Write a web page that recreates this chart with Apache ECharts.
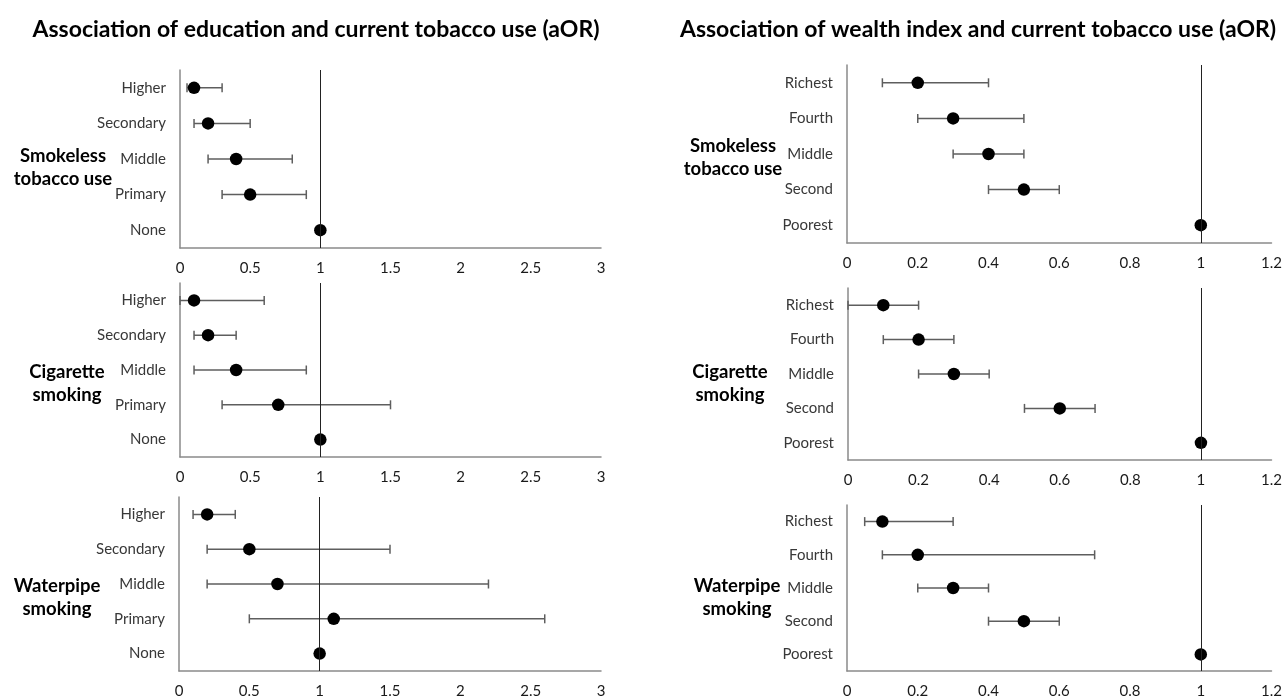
<!DOCTYPE html>
<html>
<head>
<meta charset="utf-8">
<script src="https://cdn.jsdelivr.net/npm/echarts@6/dist/echarts.min.js"></script>
<style>html,body{margin:0;padding:0;background:#fff}#c{width:1285px;height:699px}</style>
</head>
<body>
<div id="c"></div>
<script>
// ---- Data ----
const eduCats = ['Higher', 'Secondary', 'Middle', 'Primary', 'None'];
const wealthCats = ['Richest', 'Fourth', 'Middle', 'Second', 'Poorest'];

const eduSmokelessOR = [0.1, 0.2, 0.4, 0.5, 1];
const eduSmokelessLo = [0.05, 0.1, 0.2, 0.3, null];
const eduSmokelessHi = [0.3, 0.5, 0.8, 0.9, null];

const eduCigOR = [0.1, 0.2, 0.4, 0.7, 1];
const eduCigLo = [0, 0.1, 0.1, 0.3, null];
const eduCigHi = [0.6, 0.4, 0.9, 1.5, null];

const eduWaterOR = [0.2, 0.5, 0.7, 1.1, 1];
const eduWaterLo = [0.1, 0.2, 0.2, 0.5, null];
const eduWaterHi = [0.4, 1.5, 2.2, 2.6, null];

const wealthSmokelessOR = [0.2, 0.3, 0.4, 0.5, 1];
const wealthSmokelessLo = [0.1, 0.2, 0.3, 0.4, null];
const wealthSmokelessHi = [0.4, 0.5, 0.5, 0.6, null];

const wealthCigOR = [0.1, 0.2, 0.3, 0.6, 1];
const wealthCigLo = [0, 0.1, 0.2, 0.5, null];
const wealthCigHi = [0.2, 0.3, 0.4, 0.7, null];

const wealthWaterOR = [0.1, 0.2, 0.3, 0.5, 1];
const wealthWaterLo = [0.05, 0.1, 0.2, 0.4, null];
const wealthWaterHi = [0.3, 0.7, 0.4, 0.6, null];

const eduTicks = { min: 0, max: 3, interval: 0.5 };
const wealthTicks = { min: 0, max: 1.2, interval: 0.2 };

const leftTitle = 'Association of education and current tobacco use (aOR)';
const rightTitle = 'Association of wealth index and current tobacco use (aOR)';
const groupNames = [['Smokeless', 'tobacco use'], ['Cigarette', 'smoking'], ['Waterpipe', 'smoking']];

// ---- Layout ----
const FONT = 'Lato, "Open Sans", sans-serif';
const panels = [
  { grid: { left: 180, width: 421, top: 70, height: 178 }, cats: eduCats, or: eduSmokelessOR, lo: eduSmokelessLo, hi: eduSmokelessHi, ticks: eduTicks },
  { grid: { left: 180, width: 421, top: 283, height: 174 }, cats: eduCats, or: eduCigOR, lo: eduCigLo, hi: eduCigHi, ticks: eduTicks },
  { grid: { left: 179, width: 422, top: 497, height: 175 }, cats: eduCats, or: eduWaterOR, lo: eduWaterLo, hi: eduWaterHi, ticks: eduTicks },
  { grid: { left: 847, width: 425, top: 65, height: 178 }, cats: wealthCats, or: wealthSmokelessOR, lo: wealthSmokelessLo, hi: wealthSmokelessHi, ticks: wealthTicks },
  { grid: { left: 848, width: 424, top: 288, height: 172 }, cats: wealthCats, or: wealthCigOR, lo: wealthCigLo, hi: wealthCigHi, ticks: wealthTicks },
  { grid: { left: 847, width: 425, top: 505, height: 166 }, cats: wealthCats, or: wealthWaterOR, lo: wealthWaterLo, hi: wealthWaterHi, ticks: wealthTicks }
];

const grids = [], xAxes = [], yAxes = [], series = [];
panels.forEach((p, i) => {
  grids.push(Object.assign({}, p.grid));
  xAxes.push({
    type: 'value', gridIndex: i, min: p.ticks.min, max: p.ticks.max, interval: p.ticks.interval,
    axisLine: { show: true, onZero: false, lineStyle: { color: '#8a8a8a', width: 1.5 } },
    axisTick: { show: false }, splitLine: { show: false },
    axisLabel: { color: '#1a1a1a', fontSize: 15, fontFamily: FONT, margin: 13 }
  });
  yAxes.push({
    type: 'category', gridIndex: i, data: p.cats, inverse: true,
    axisLine: { show: true, onZero: false, lineStyle: { color: '#8a8a8a', width: 1.5 } },
    axisTick: { show: false }, splitLine: { show: false },
    axisLabel: { color: '#383838', fontSize: 15, fontFamily: FONT, margin: 14 }
  });
  const errData = [];
  p.cats.forEach((c, k) => { if (p.lo[k] != null) errData.push([k, p.lo[k], p.hi[k]]); });
  series.push({
    type: 'custom', coordinateSystem: 'cartesian2d', xAxisIndex: i, yAxisIndex: i, data: errData, z: 2,
    dimensions: ['cat', 'lo', 'hi'],
    encode: { y: 0, x: [1, 2] },
    renderItem: function (params, api) {
      const a = api.coord([api.value(1), api.value(0)]);
      const b = api.coord([api.value(2), api.value(0)]);
      const h = 4.5;
      const st = { stroke: '#5e5e5e', lineWidth: 1.5 };
      return {
        type: 'group', children: [
          { type: 'line', shape: { x1: a[0], y1: a[1], x2: b[0], y2: b[1] }, style: st },
          { type: 'line', shape: { x1: a[0], y1: a[1] - h, x2: a[0], y2: a[1] + h }, style: st },
          { type: 'line', shape: { x1: b[0], y1: b[1] - h, x2: b[0], y2: b[1] + h }, style: st }
        ]
      };
    }
  });
  series.push({
    type: 'scatter', xAxisIndex: i, yAxisIndex: i, z: 3,
    symbol: 'circle', symbolSize: 12.5, itemStyle: { color: '#000', opacity: 1 },
    data: p.or.map((v, k) => [v, k]),
    markLine: {
      silent: true, symbol: 'none', label: { show: false },
      lineStyle: { color: '#222', width: 1, type: 'solid', opacity: 1 },
      data: [{ xAxis: 1 }]
    }
  });
});

const graphics = [
  { type: 'text', x: 316, y: 30, style: { text: leftTitle, font: 'bold 23px ' + FONT, fill: '#000', textAlign: 'center', textVerticalAlign: 'middle' } },
  { type: 'text', x: 978, y: 30, style: { text: rightTitle, font: 'bold 23px ' + FONT, fill: '#000', textAlign: 'center', textVerticalAlign: 'middle' } }
];
const groupPos = [[63, 168], [67, 384], [57, 598], [733, 158], [730, 384], [737, 598]];
groupPos.forEach((g, i) => {
  const n = groupNames[i % 3];
  graphics.push({ type: 'text', x: g[0], y: g[1], style: { text: n[0] + '\n' + n[1], font: 'bold 18.5px ' + FONT, lineHeight: 23, fill: '#000', textAlign: 'center', textVerticalAlign: 'middle' } });
});

const chart = echarts.init(document.getElementById('c'));
chart.setOption({
  animation: false,
  backgroundColor: '#fff',
  grid: grids, xAxis: xAxes, yAxis: yAxes, series: series,
  graphic: graphics
});
</script>
</body>
</html>
